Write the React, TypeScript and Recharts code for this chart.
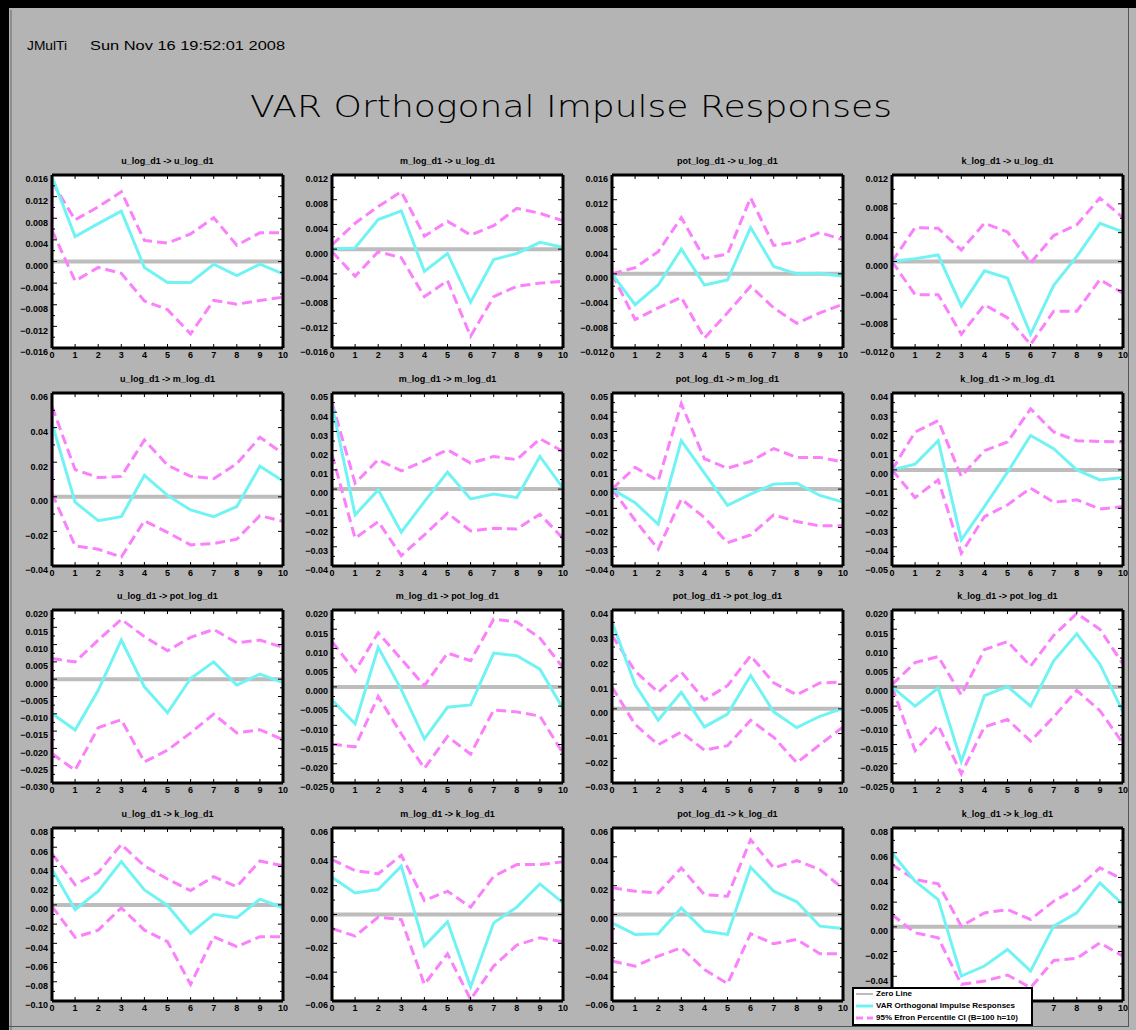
import React from 'react';
import { LineChart, Line, XAxis, YAxis, CartesianGrid, ReferenceLine } from 'recharts';

// Variable names of the VAR system (impulse -> response)
const VARS = ['u_log_d1', 'm_log_d1', 'pot_log_d1', 'k_log_d1'];
const HORIZON = [0, 1, 2, 3, 4, 5, 6, 7, 8, 9, 10];

// ---- responses of u_log_d1 ----
const irf_u_u = [0.0157, 0.0046, 0.007, 0.0093, -0.0011, -0.0039, -0.0039, -0.0005, -0.0026, -0.0005, -0.0023];
const hi_u_u = [0.0147, 0.0077, 0.0101, 0.0129, 0.0039, 0.0034, 0.0051, 0.0081, 0.003, 0.0053, 0.0053];
const lo_u_u = [0.0058, -0.0036, -0.0011, -0.0022, -0.0073, -0.0089, -0.0134, -0.0072, -0.0079, -0.0072, -0.0066];

const irf_m_u = [0.0, 0.0002, 0.0048, 0.0062, -0.0036, -0.0007, -0.0086, -0.0017, -0.0007, 0.0011, 0.0003];
const hi_m_u = [0.0007, 0.0042, 0.0069, 0.0093, 0.0021, 0.0045, 0.0023, 0.0038, 0.0066, 0.0058, 0.0046];
const lo_m_u = [-0.0004, -0.0044, -0.0004, -0.0014, -0.0077, -0.0051, -0.0141, -0.0077, -0.006, -0.0055, -0.0052];

const irf_pot_u = [0.0, -0.005, -0.0018, 0.004, -0.0018, -0.001, 0.0075, 0.0012, 0.0, 0.0001, -0.0004];
const hi_pot_u = [0.0, 0.001, 0.0036, 0.0091, 0.0025, 0.0032, 0.0123, 0.0046, 0.0052, 0.0067, 0.0055];
const lo_pot_u = [0.0, -0.0074, -0.0055, -0.0038, -0.0104, -0.0063, -0.002, -0.0055, -0.008, -0.0063, -0.0049];

const irf_k_u = [0.0, 0.0004, 0.0009, -0.0062, -0.0013, -0.0023, -0.0101, -0.0033, 0.0007, 0.0053, 0.0041];
const hi_k_u = [0.0, 0.0047, 0.0046, 0.0016, 0.0053, 0.0041, -0.0002, 0.0036, 0.0051, 0.0088, 0.0061];
const lo_k_u = [0.0, -0.0046, -0.0046, -0.0101, -0.006, -0.0078, -0.0115, -0.0069, -0.0069, -0.0025, -0.0044];

// ---- responses of m_log_d1 ----
const irf_u_m = [0.0425, -0.0031, -0.0138, -0.0115, 0.0124, 0.0008, -0.0076, -0.0115, -0.0056, 0.0177, 0.0091];
const hi_u_m = [0.0522, 0.0157, 0.0111, 0.0118, 0.0328, 0.0183, 0.0118, 0.0105, 0.0192, 0.0344, 0.025];
const lo_u_m = [0.002, -0.0283, -0.0303, -0.0348, -0.0138, -0.0206, -0.0278, -0.027, -0.0245, -0.0109, -0.0142];

const irf_m_m = [0.0439, -0.0134, -0.0004, -0.0224, -0.0065, 0.0088, -0.0051, -0.0026, -0.0044, 0.017, 0.0005];
const hi_m_m = [0.045, 0.0031, 0.0153, 0.0095, 0.0147, 0.0205, 0.0135, 0.017, 0.0153, 0.0262, 0.0196];
const lo_m_m = [0.018, -0.0256, -0.0169, -0.0346, -0.0238, -0.0125, -0.0218, -0.0204, -0.0207, -0.0131, -0.0256];

const irf_pot_m = [0.0, -0.0071, -0.0183, 0.0252, 0.0083, -0.0085, -0.0026, 0.0026, 0.0031, -0.0033, -0.0068];
const hi_pot_m = [0.0, 0.0113, 0.0043, 0.0444, 0.0158, 0.0109, 0.0144, 0.0211, 0.0165, 0.0165, 0.0141];
const lo_pot_m = [0.0, -0.0162, -0.0313, -0.0052, -0.0148, -0.0279, -0.0238, -0.0134, -0.0169, -0.0191, -0.0191];

const irf_k_m = [0.0, 0.003, 0.0152, -0.0364, -0.0191, -0.0012, 0.0179, 0.011, 0.0, -0.0052, -0.004];
const hi_k_m = [0.0, 0.0197, 0.0256, -0.0034, 0.01, 0.0145, 0.0318, 0.0197, 0.0152, 0.0148, 0.0145];
const lo_k_m = [0.0, -0.0144, -0.0052, -0.0434, -0.0243, -0.0182, -0.0095, -0.0168, -0.0156, -0.0203, -0.0191];

// ---- responses of pot_log_d1 ----
const irf_u_pot = [-0.0099, -0.0147, -0.0032, 0.0113, -0.0022, -0.0097, 0.0002, 0.005, -0.0017, 0.0015, -0.001];
const hi_u_pot = [0.006, 0.005, 0.0113, 0.0173, 0.0123, 0.0082, 0.0121, 0.0144, 0.0105, 0.0113, 0.0092];
const lo_u_pot = [-0.0215, -0.0263, -0.014, -0.0117, -0.0239, -0.0205, -0.0155, -0.0101, -0.0155, -0.0146, -0.0175];

const irf_m_pot = [-0.0034, -0.0096, 0.0103, -0.0007, -0.0135, -0.0053, -0.0047, 0.0088, 0.0081, 0.0046, -0.0056];
const hi_m_pot = [0.0118, 0.0041, 0.0141, 0.0072, 0.0003, 0.0088, 0.0068, 0.0176, 0.0169, 0.0127, 0.005];
const lo_m_pot = [-0.0149, -0.0156, -0.0025, -0.0122, -0.0212, -0.0129, -0.0175, -0.006, -0.0065, -0.0076, -0.0173];

const irf_pot_pot = [0.0352, 0.0098, -0.0046, 0.0067, -0.0073, -0.0021, 0.0135, -0.0012, -0.0076, -0.003, 0.0002];
const hi_pot_pot = [0.0297, 0.0153, 0.0067, 0.0149, 0.0036, 0.0094, 0.0215, 0.0105, 0.0057, 0.0105, 0.0108];
const lo_pot_pot = [0.0088, -0.0063, -0.0145, -0.0094, -0.0167, -0.0149, -0.0046, -0.0115, -0.0218, -0.0145, -0.0073];

const irf_k_pot = [0.0, -0.005, -0.0003, -0.0194, -0.0023, 0.0001, -0.005, 0.0068, 0.0138, 0.0059, -0.0065];
const hi_k_pot = [0.0006, 0.0063, 0.0079, -0.0021, 0.0097, 0.0118, 0.0054, 0.0134, 0.0191, 0.015, 0.0059];
const lo_k_pot = [0.0, -0.0166, -0.01, -0.0226, -0.0104, -0.0085, -0.0141, -0.0078, -0.0009, -0.0062, -0.0147];

// ---- responses of k_log_d1 ----
const irf_u_k = [0.0371, -0.005, 0.0142, 0.045, 0.0156, -0.0006, -0.0297, -0.0098, -0.0132, 0.0059, -0.003];
const hi_u_k = [0.0533, 0.021, 0.0337, 0.0629, 0.0406, 0.0269, 0.0149, 0.0293, 0.019, 0.0457, 0.0406];
const lo_u_k = [-0.0016, -0.0338, -0.0263, -0.003, -0.0263, -0.0383, -0.0828, -0.0331, -0.0434, -0.0331, -0.0331];

const irf_m_k = [0.0258, 0.015, 0.0173, 0.0335, -0.0219, -0.0051, -0.0503, -0.0058, 0.0051, 0.0212, 0.0081];
const hi_m_k = [0.0381, 0.0305, 0.0282, 0.0411, 0.0097, 0.0162, 0.0051, 0.0265, 0.0346, 0.0346, 0.0365];
const lo_m_k = [-0.0097, -0.015, -0.0018, -0.0035, -0.0485, -0.0272, -0.0589, -0.0358, -0.0212, -0.0162, -0.0189];

const irf_pot_k = [-0.0058, -0.0138, -0.0134, 0.0046, -0.0115, -0.0138, 0.0328, 0.0162, 0.0088, -0.0081, -0.0097];
const hi_pot_k = [0.0185, 0.0162, 0.015, 0.0323, 0.0138, 0.0127, 0.0519, 0.0323, 0.0374, 0.0312, 0.018];
const lo_pot_k = [-0.0323, -0.0358, -0.0289, -0.0231, -0.0381, -0.048, -0.0134, -0.0203, -0.0173, -0.0272, -0.0272];

const irf_k_k = [0.0598, 0.0369, 0.0221, -0.0398, -0.0317, -0.0183, -0.0358, 0.0006, 0.0113, 0.0356, 0.0181];
const hi_k_k = [0.0504, 0.0383, 0.0348, 0.0006, 0.0113, 0.014, 0.006, 0.0208, 0.031, 0.0477, 0.0383];
const lo_k_k = [0.01, -0.0048, -0.0089, -0.0465, -0.0439, -0.039, -0.0492, -0.0272, -0.0255, -0.0129, -0.0237];

// ---- y-axis tick values per panel ----
const ticks_u_u = [-0.016, -0.012, -0.008, -0.004, 0, 0.004, 0.008, 0.012, 0.016];
const ticks_m_u = [-0.016, -0.012, -0.008, -0.004, 0, 0.004, 0.008, 0.012];
const ticks_pot_u = [-0.012, -0.008, -0.004, 0, 0.004, 0.008, 0.012, 0.016];
const ticks_k_u = [-0.012, -0.008, -0.004, 0, 0.004, 0.008, 0.012];
const ticks_u_m = [-0.04, -0.02, 0, 0.02, 0.04, 0.06];
const ticks_m_m = [-0.04, -0.03, -0.02, -0.01, 0, 0.01, 0.02, 0.03, 0.04, 0.05];
const ticks_pot_m = [-0.04, -0.03, -0.02, -0.01, 0, 0.01, 0.02, 0.03, 0.04, 0.05];
const ticks_k_m = [-0.05, -0.04, -0.03, -0.02, -0.01, 0, 0.01, 0.02, 0.03, 0.04];
const ticks_u_pot = [-0.03, -0.025, -0.02, -0.015, -0.01, -0.005, 0, 0.005, 0.01, 0.015, 0.02];
const ticks_m_pot = [-0.025, -0.02, -0.015, -0.01, -0.005, 0, 0.005, 0.01, 0.015, 0.02];
const ticks_pot_pot = [-0.03, -0.02, -0.01, 0, 0.01, 0.02, 0.03, 0.04];
const ticks_k_pot = [-0.025, -0.02, -0.015, -0.01, -0.005, 0, 0.005, 0.01, 0.015, 0.02];
const ticks_u_k = [-0.1, -0.08, -0.06, -0.04, -0.02, 0, 0.02, 0.04, 0.06, 0.08];
const ticks_m_k = [-0.06, -0.04, -0.02, 0, 0.02, 0.04, 0.06];
const ticks_pot_k = [-0.06, -0.04, -0.02, 0, 0.02, 0.04, 0.06];
const ticks_k_k = [-0.06, -0.04, -0.02, 0, 0.02, 0.04, 0.06, 0.08];

type PanelDef = {
  impulse: number;
  response: number;
  irf: number[];
  lo: number[];
  hi: number[];
  ticks: number[];
  dec: number;
  edge?: boolean;
};

// Grid order: rows = response variable, columns = impulse variable
const PANELS: PanelDef[] = [
  { impulse: 0, response: 0, irf: irf_u_u, lo: lo_u_u, hi: hi_u_u, ticks: ticks_u_u, dec: 3, edge: true },
  { impulse: 1, response: 0, irf: irf_m_u, lo: lo_m_u, hi: hi_m_u, ticks: ticks_m_u, dec: 3 },
  { impulse: 2, response: 0, irf: irf_pot_u, lo: lo_pot_u, hi: hi_pot_u, ticks: ticks_pot_u, dec: 3 },
  { impulse: 3, response: 0, irf: irf_k_u, lo: lo_k_u, hi: hi_k_u, ticks: ticks_k_u, dec: 3 },
  { impulse: 0, response: 1, irf: irf_u_m, lo: lo_u_m, hi: hi_u_m, ticks: ticks_u_m, dec: 2, edge: true },
  { impulse: 1, response: 1, irf: irf_m_m, lo: lo_m_m, hi: hi_m_m, ticks: ticks_m_m, dec: 2 },
  { impulse: 2, response: 1, irf: irf_pot_m, lo: lo_pot_m, hi: hi_pot_m, ticks: ticks_pot_m, dec: 2 },
  { impulse: 3, response: 1, irf: irf_k_m, lo: lo_k_m, hi: hi_k_m, ticks: ticks_k_m, dec: 2 },
  { impulse: 0, response: 2, irf: irf_u_pot, lo: lo_u_pot, hi: hi_u_pot, ticks: ticks_u_pot, dec: 3, edge: true },
  { impulse: 1, response: 2, irf: irf_m_pot, lo: lo_m_pot, hi: hi_m_pot, ticks: ticks_m_pot, dec: 3 },
  { impulse: 2, response: 2, irf: irf_pot_pot, lo: lo_pot_pot, hi: hi_pot_pot, ticks: ticks_pot_pot, dec: 2 },
  { impulse: 3, response: 2, irf: irf_k_pot, lo: lo_k_pot, hi: hi_k_pot, ticks: ticks_k_pot, dec: 3 },
  { impulse: 0, response: 3, irf: irf_u_k, lo: lo_u_k, hi: hi_u_k, ticks: ticks_u_k, dec: 2 },
  { impulse: 1, response: 3, irf: irf_m_k, lo: lo_m_k, hi: hi_m_k, ticks: ticks_m_k, dec: 2 },
  { impulse: 2, response: 3, irf: irf_pot_k, lo: lo_pot_k, hi: hi_pot_k, ticks: ticks_pot_k, dec: 2, edge: true },
  { impulse: 3, response: 3, irf: irf_k_k, lo: lo_k_k, hi: hi_k_k, ticks: ticks_k_k, dec: 2 },
];

const LEGEND_ITEMS = ['Zero Line', 'VAR Orthogonal Impulse Responses', '95% Efron Percentile CI (B=100 h=10)'];

// ---- layout & style ----
const COL_X = [52, 332, 612, 892];
const ROW_Y = [175, 393, 610, 828];
const PLOT_W = 231;
const PLOT_H = 173;
const AXIS_W = 50;
const RIGHT_W = 1;
const RIGHT_PAD = 8;
const TOP_H = 20;
const BOTTOM_H = 22;
const LEGEND_BOX = { x: 852, y: 987, w: 182, h: 40 };

const BG = '#b4b4b4';
const CYAN = '#72f3f3';
const PINK = '#fb80fb';
const ZERO = '#bdbdbd';
const TICK_FONT = "'Liberation Sans', Arial, sans-serif";

const fmt = (v: number, dec: number) => {
  const s = Math.abs(v).toFixed(dec);
  return v < 0 ? '\u2212' + s : s;
};

// A tick label sitting under the opaque legend box is simply not drawn.
const underLegend = (x0: number, x1: number, y: number) =>
  x1 > LEGEND_BOX.x && x0 < LEGEND_BOX.x + LEGEND_BOX.w && y > LEGEND_BOX.y - 3 && y < LEGEND_BOX.y + LEGEND_BOX.h + 3;

function IrfPanel({ p }: { p: PanelDef }) {
  const left = COL_X[p.impulse];
  const top = ROW_Y[p.response];
  const ox = left - AXIS_W;
  const oy = top - TOP_H;
  const data = HORIZON.map((h, i) => ({ h, zero: 0, irf: p.irf[i], lo: p.lo[i], hi: p.hi[i] }));
  const majors = p.ticks;
  const minors = majors.slice(1).map((v, i) => (v + majors[i]) / 2);
  const yTicks = [...majors, ...minors].sort((a, b) => a - b);
  const isMajor = (v: number) => majors.some((m) => Math.abs(m - v) < 1e-9);
  const domain: [number, number] = [majors[0], majors[majors.length - 1]];

  const leftTick = (props: any) => {
    const { x, y, payload } = props;
    const major = isMajor(payload.value);
    const showLabel = major && !underLegend(ox + x - 32, ox + x - 4, oy + y + 5);
    return (
      <g>
        <line x1={x} x2={x + (major ? 5 : 3)} y1={y} y2={y} stroke="#000" strokeWidth={1} />
        {showLabel && (
          <text x={x - 4} y={y + 5} textAnchor="end" dominantBaseline="middle" fontSize={9} fontWeight="bold" fontFamily={TICK_FONT} fill="#000">
            {fmt(payload.value, p.dec)}
          </text>
        )}
      </g>
    );
  };
  const rightTick = (props: any) => {
    const { x, y, payload } = props;
    const major = isMajor(payload.value);
    return <line x1={x} x2={x - (major ? 5 : 3)} y1={y} y2={y} stroke="#000" strokeWidth={1} />;
  };
  const bottomTick = (props: any) => {
    const { x, y, payload } = props;
    const showLabel = !underLegend(ox + x - 4, ox + x + 4, oy + y + 8);
    return (
      <g>
        <line x1={x} x2={x} y1={y} y2={y - 4} stroke="#000" strokeWidth={1} />
        {showLabel && (
          <text x={x} y={y + 8} textAnchor="middle" dominantBaseline="middle" fontSize={9} fontWeight="bold" fontFamily={TICK_FONT} fill="#000">
            {payload.value}
          </text>
        )}
      </g>
    );
  };
  const topTick = (props: any) => {
    const { x, y } = props;
    return <line x1={x} x2={x} y1={y} y2={y + 4} stroke="#000" strokeWidth={1} />;
  };

  return (
    <div style={{ position: 'absolute', left: ox, top: oy }}>
      <LineChart
        width={AXIS_W + PLOT_W + RIGHT_W + RIGHT_PAD}
        height={TOP_H + PLOT_H + BOTTOM_H}
        data={data}
        margin={{ top: 0, right: RIGHT_PAD, bottom: 0, left: 0 }}
      >
        <CartesianGrid xAxisId="b" yAxisId="l" horizontal={false} vertical={false} fill="#ffffff" stroke="none" />
        <XAxis
          xAxisId="b"
          dataKey="h"
          type="number"
          domain={[0, 10]}
          ticks={HORIZON}
          interval={0}
          height={BOTTOM_H}
          tickSize={0}
          tickMargin={0}
          tickLine={false}
          tick={bottomTick}
          axisLine={{ stroke: '#000', strokeWidth: 3 }}
        />
        <XAxis
          xAxisId="t"
          orientation="top"
          dataKey="h"
          type="number"
          domain={[0, 10]}
          ticks={HORIZON}
          interval={0}
          height={TOP_H}
          tickSize={0}
          tickMargin={0}
          tickLine={false}
          tick={topTick}
          axisLine={{ stroke: '#000', strokeWidth: 3 }}
        />
        <YAxis
          yAxisId="l"
          type="number"
          domain={domain}
          ticks={yTicks}
          interval={0}
          width={AXIS_W}
          tickSize={0}
          tickMargin={0}
          tickLine={false}
          tick={leftTick}
          allowDataOverflow
          axisLine={{ stroke: '#000', strokeWidth: 3 }}
        />
        <YAxis
          yAxisId="r"
          orientation="right"
          type="number"
          domain={domain}
          ticks={yTicks}
          interval={0}
          width={RIGHT_W}
          tickSize={0}
          tickMargin={0}
          tickLine={false}
          tick={rightTick}
          allowDataOverflow
          axisLine={{ stroke: '#000', strokeWidth: 3 }}
        />
        <Line xAxisId="b" yAxisId="l" dataKey="zero" stroke={ZERO} strokeWidth={4} dot={false} isAnimationActive={false} />
        {p.edge && (
          <ReferenceLine
            xAxisId="b"
            yAxisId="l"
            segment={[
              { x: 0, y: p.hi[0] },
              { x: 0, y: p.lo[0] },
            ]}
            stroke={PINK}
            strokeWidth={3}
          />
        )}
        <Line xAxisId="b" yAxisId="l" dataKey="hi" stroke={PINK} strokeWidth={3} strokeDasharray="10 5" dot={false} isAnimationActive={false} />
        <Line xAxisId="b" yAxisId="l" dataKey="lo" stroke={PINK} strokeWidth={3} strokeDasharray="10 5" dot={false} isAnimationActive={false} />
        <Line xAxisId="b" yAxisId="l" dataKey="irf" stroke={CYAN} strokeWidth={3} dot={false} isAnimationActive={false} />
      </LineChart>
    </div>
  );
}

export default function App() {
  return (
    <div style={{ position: 'absolute', left: 0, top: 0, width: 1136, height: 1030, overflow: 'hidden', background: BG }}>
      <svg width={1136} height={1030} style={{ position: 'absolute', left: 0, top: 0 }}>
        <rect x={0} y={0} width={1136} height={1030} fill={BG} />
        <rect x={0} y={0} width={1136} height={8} fill="#000" />
        <rect x={0} y={0} width={9} height={1030} fill="#000" />
        <line x1={11} y1={10} x2={11} y2={1030} stroke="#666" strokeWidth={1} />
        <line x1={1128.5} y1={8} x2={1128.5} y2={1026} stroke="#555" strokeWidth={1} />
        <line x1={9} y1={1026.5} x2={1129} y2={1026.5} stroke="#555" strokeWidth={1} />
        <text x={27} y={50} fontSize={12} fontFamily={TICK_FONT} fill="#000" textLength={40} lengthAdjust="spacingAndGlyphs">
          JMulTi
        </text>
        <text x={90} y={50} fontSize={12} fontFamily={TICK_FONT} fill="#000" textLength={195} lengthAdjust="spacingAndGlyphs">
          Sun Nov 16 19:52:01 2008
        </text>
        <text
          x={250}
          y={117}
          fontSize={31}
          fontWeight={200}
          fontFamily="'DejaVu Sans', 'Liberation Sans', sans-serif"
          fill="#000"
          textLength={642}
          lengthAdjust="spacingAndGlyphs"
        >
          VAR Orthogonal Impulse Responses
        </text>
        {PANELS.map((p, i) => (
          <text
            key={i}
            x={COL_X[p.impulse] + PLOT_W / 2}
            y={ROW_Y[p.response] - 13}
            textAnchor="middle"
            dominantBaseline="middle"
            fontSize={9}
            fontWeight="bold"
            fontFamily={TICK_FONT}
            fill="#000"
          >
            {`${VARS[p.impulse]} -> ${VARS[p.response]}`}
          </text>
        ))}
      </svg>
      {PANELS.map((p, i) => (
        <IrfPanel key={i} p={p} />
      ))}
      <svg width={LEGEND_BOX.w} height={LEGEND_BOX.h} style={{ position: 'absolute', left: LEGEND_BOX.x, top: LEGEND_BOX.y }}>
        <rect x={1} y={1} width={LEGEND_BOX.w - 3} height={LEGEND_BOX.h - 3} fill="#fff" stroke="#000" strokeWidth={2} />
        <line x1={4} x2={21} y1={7} y2={7} stroke={ZERO} strokeWidth={2} />
        <line x1={4} x2={21} y1={19} y2={19} stroke={CYAN} strokeWidth={3} />
        <line x1={4} x2={21} y1={31} y2={31} stroke={PINK} strokeWidth={3} strokeDasharray="7 4" />
        {LEGEND_ITEMS.map((t, i) => (
          <text key={t} x={24} y={7 + i * 12} dominantBaseline="middle" fontSize={8} fontWeight="bold" fontFamily={TICK_FONT} fill="#000">
            {t}
          </text>
        ))}
      </svg>
    </div>
  );
}
